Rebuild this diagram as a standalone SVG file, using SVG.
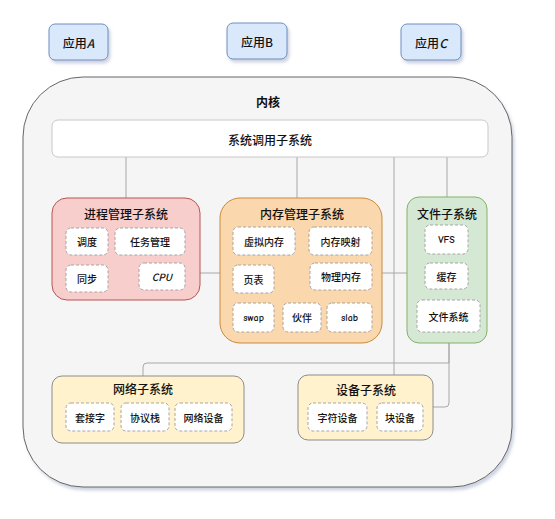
<svg xmlns="http://www.w3.org/2000/svg" width="555" height="519" viewBox="0 0 555 519">
<defs>
<filter id="sh" x="-20%" y="-20%" width="140%" height="140%">
<feDropShadow dx="2" dy="3" stdDeviation="1.5" flood-color="#6070a0" flood-opacity="0.3"/>
</filter>
</defs>
<style>
text{font-family:"Noto Sans CJK SC","Noto Sans",sans-serif;fill:#111;text-anchor:middle;dominant-baseline:central;font-weight:500}
.app{fill:#dae8fc;stroke:#6c8ebf;stroke-width:1}
.t12{font-size:12px}
.t10{font-size:10px}
.b{font-weight:bold}
.in{fill:#fff;stroke:#a6a6a6;stroke-width:1;stroke-dasharray:3 2}
.lat{font-family:"Comic Neue","DejaVu Sans","Noto Sans",sans-serif;font-weight:bold}
.con{fill:none;stroke:#a8a8a8;stroke-width:1}
</style>
<rect width="555" height="519" fill="#fff"/>
<g id="appA"><rect class="app" x="49" y="24" width="59" height="36" rx="6" filter="url(#sh)"/><text class="t12" x="78.5" y="42">应用<tspan font-style="italic">A</tspan></text></g>
<g id="appB"><rect class="app" x="227" y="23" width="60" height="36" rx="6" filter="url(#sh)"/><text class="t12" x="257" y="41">应用B</text></g>
<g id="appC"><rect class="app" x="401" y="24" width="60" height="36" rx="6" filter="url(#sh)"/><text class="t12" x="431" y="42">应用<tspan font-style="italic">C</tspan></text></g>
<g id="kernel"><rect x="23" y="77" width="489" height="410" rx="60" fill="#f5f5f5" stroke="#666" stroke-width="1" filter="url(#sh)"/><text class="t12 b" x="268" y="101">内核</text></g>
<g id="connectors">
<line class="con" x1="126" y1="157" x2="126" y2="198"/>
<line class="con" x1="297" y1="157" x2="297" y2="198"/>
<line class="con" x1="447" y1="157" x2="447" y2="197"/>
<line class="con" x1="394" y1="157" x2="394" y2="375"/>
<line class="con" x1="200" y1="273" x2="407" y2="273"/>
<path class="con" d="M449,343 V403 Q449,407 445,407 H433"/>
<path class="con" d="M449,343 V363 H147 Q143,363 143,367 V376"/>
</g>
<g id="syscall"><rect x="52" y="120" width="436" height="37" rx="6" fill="#fff" stroke="#c8c8c8"/><text class="t12" x="270" y="139">系统调用子系统</text></g>
<g id="process">
<rect x="52" y="198" width="148" height="102" rx="15" fill="#f8cecc" stroke="#b85450"/>
<text class="t12" x="126" y="213">进程管理子系统</text>
<rect class="in" x="66" y="228" width="42" height="27" rx="5"/><text class="t10" x="87" y="241.5">调度</text>
<rect class="in" x="115" y="228" width="70" height="27" rx="5"/><text class="t10" x="150" y="241.5">任务管理</text>
<rect class="in" x="66" y="265" width="42" height="27" rx="5"/><text class="t10" x="87" y="278.5">同步</text>
<rect class="in" x="139" y="263" width="46" height="27" rx="5"/><text class="t10" x="162" y="276.5" font-style="italic">CPU</text>
</g>
<g id="memory">
<rect x="220" y="198" width="162" height="145" rx="20" fill="#fad7ac" stroke="#c98b3a"/>
<text class="t12" x="302" y="213">内存管理子系统</text>
<rect class="in" x="233" y="227" width="62" height="28" rx="5"/><text class="t10" x="264" y="241">虚拟内存</text>
<rect class="in" x="309" y="227" width="63" height="28" rx="5"/><text class="t10" x="340.5" y="241">内存映射</text>
<rect class="in" x="233" y="265" width="41" height="28" rx="5"/><text class="t10" x="253.5" y="279">页表</text>
<rect class="in" x="310" y="263" width="62" height="27" rx="5"/><text class="t10" x="341" y="276.5">物理内存</text>
<rect class="in" x="233" y="303" width="41" height="29" rx="5"/><text class="t10 lat" x="253.5" y="317.5">swap</text>
<rect class="in" x="283" y="303" width="38" height="29" rx="5"/><text class="t10" x="302" y="317.5">伙伴</text>
<rect class="in" x="327" y="303" width="45" height="29" rx="5"/><text class="t10 lat" x="349.5" y="317.5">slab</text>
</g>
<g id="file">
<rect x="407" y="197" width="80" height="146" rx="12" fill="#d5e8d4" stroke="#82b366"/>
<text class="t12" x="447" y="213">文件子系统</text>
<rect class="in" x="425" y="225" width="43" height="29" rx="5"/><text class="t10 lat" x="446.5" y="239.5">VFS</text>
<rect class="in" x="425" y="263" width="43" height="26" rx="5"/><text class="t10" x="446.5" y="276">缓存</text>
<rect class="in" x="417" y="300" width="63" height="32" rx="5"/><text class="t10" x="448.5" y="316">文件系统</text>
</g>
<g id="network">
<rect x="52" y="376" width="192" height="67" rx="10" fill="#fff2cc" stroke="#8c8c8c"/>
<text class="t12" x="143" y="388">网络子系统</text>
<rect class="in" x="66" y="403" width="48" height="28" rx="5"/><text class="t10" x="90" y="417">套接字</text>
<rect class="in" x="121" y="403" width="48" height="28" rx="5"/><text class="t10" x="145" y="417">协议栈</text>
<rect class="in" x="175" y="403" width="57" height="28" rx="5"/><text class="t10" x="203.5" y="417">网络设备</text>
</g>
<g id="device">
<rect x="298" y="375" width="135" height="65" rx="10" fill="#fff2cc" stroke="#8c8c8c"/>
<text class="t12" x="366" y="389">设备子系统</text>
<rect class="in" x="308" y="403" width="59" height="28" rx="5"/><text class="t10" x="337.5" y="417">字符设备</text>
<rect class="in" x="377" y="403" width="46" height="28" rx="5"/><text class="t10" x="400" y="417">块设备</text>
</g>
</svg>
